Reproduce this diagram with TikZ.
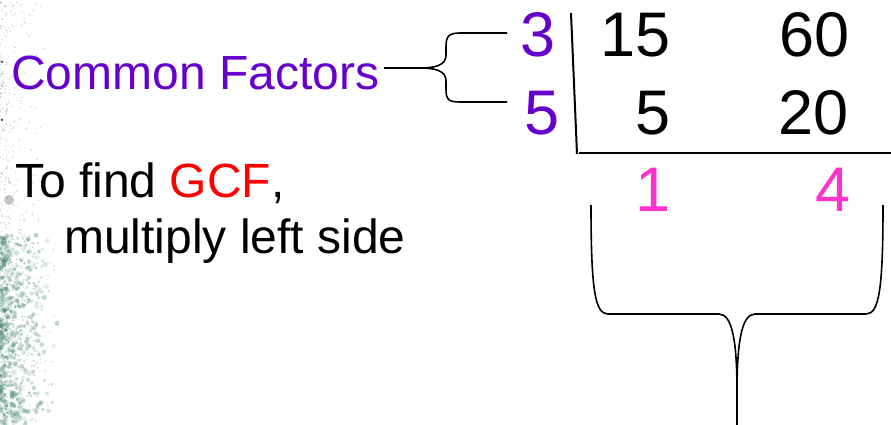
\documentclass[tikz,border=0pt]{standalone}
\usepackage{fontspec}
\setmainfont{Liberation Sans}
\definecolor{factorpurple}{RGB}{102,0,204}
\definecolor{quotpink}{RGB}{255,51,204}
\definecolor{gcfred}{RGB}{255,0,0}
\definecolor{specgreen}{RGB}{60,130,100}
\begin{document}
\begin{tikzpicture}[x=1pt,y=-1pt,
  lbl/.style={inner sep=0pt,anchor=base west,font=\fontsize{48}{58}\selectfont},
  num/.style={inner sep=0pt,anchor=base west,font=\fontsize{63}{72}\selectfont},
  rule/.style={line width=2pt,black},
  bracepath/.style={line width=1.6pt,black}]
\fill[white] (0,0) rectangle (891,425);
\useasboundingbox (0,0) rectangle (891,425);

% speckled texture along the left edge
\pgfmathsetseed{11}
\foreach \i in {1,...,500}{
  \pgfmathsetmacro\xx{50*rnd*rnd}
  \pgfmathsetmacro\yy{425*rnd}
  \pgfmathsetmacro\op{0.1+0.3*rnd}
  \fill[gray!70!black,opacity=\op] (\xx,\yy) circle (0.8);
}
\foreach \i in {1,...,900}{
  \pgfmathsetmacro\xx{60*rnd*rnd}
  \pgfmathsetmacro\yy{235+190*rnd}
  \pgfmathsetmacro\op{0.08+0.3*rnd}
  \pgfmathsetmacro\rr{0.8+1.8*rnd}
  \fill[specgreen,opacity=\op] (\xx,\yy) circle (\rr);
}
\fill[gray,opacity=0.45] (9,200) circle (5);
\fill[black,opacity=0.6] (2,62) circle (1.5);
\fill[black,opacity=0.6] (2,120) circle (1.5);

% left column text
\node[lbl,text=factorpurple] (cf) at (11,90) {Common Factors};
\node[lbl] (find) at (15,197) {To find \textcolor{gcfred}{GCF},};
\node[lbl] (mult) at (64,253) {multiply left side};

% factors on the left of the division bar
\node[num,text=factorpurple] (f3) at (520,57) {3};
\node[num,text=factorpurple] (f5) at (524,135) {5};

% dividends and quotients
\node[num] (a1) at (600,57) {15};
\node[num] (b1) at (779,57) {60};
\node[num] (a2) at (635,135) {5};
\node[num] (b2) at (778,135) {20};
\node[num,text=quotpink] (a3) at (635,211) {1};
\node[num,text=quotpink] (b3) at (815,211) {4};

% division bar
\coordinate (vtop) at (571,13);
\coordinate (vbot) at (577,154);
\coordinate (hl) at (579,153);
\coordinate (hr) at (891,153);
\draw[rule] (vtop) -- (vbot);
\draw[rule] (hl) -- (hr);

% brace grouping the common factors
\coordinate (ltip) at (384,68);
\coordinate (lmid) at (420,68);
\coordinate (ltop) at (507,33);
\coordinate (lbot) at (507,102);
\draw[bracepath] (ltop) -- (460,33) .. controls (448,33) and (446,37) .. (446,47)
  -- (446,55) .. controls (446,65) and (436,68) .. (lmid) -- (ltip);
\draw[bracepath] (lmid) .. controls (436,68) and (446,71) .. (446,81)
  -- (446,89) .. controls (446,99) and (448,102) .. (460,102) -- (lbot);

% brace under the quotients
\coordinate (bl) at (591,205);
\coordinate (br) at (883,205);
\coordinate (btip) at (737,425);
\draw[bracepath] (bl) .. controls (591,290) and (595,314) .. (608,314)
  -- (719,314) .. controls (733,314) and (737,345) .. (737,392) -- (btip);
\draw[bracepath] (br) .. controls (883,290) and (879,314) .. (866,314)
  -- (755,314) .. controls (741,314) and (737,345) .. (737,392);
\end{tikzpicture}
\end{document}
